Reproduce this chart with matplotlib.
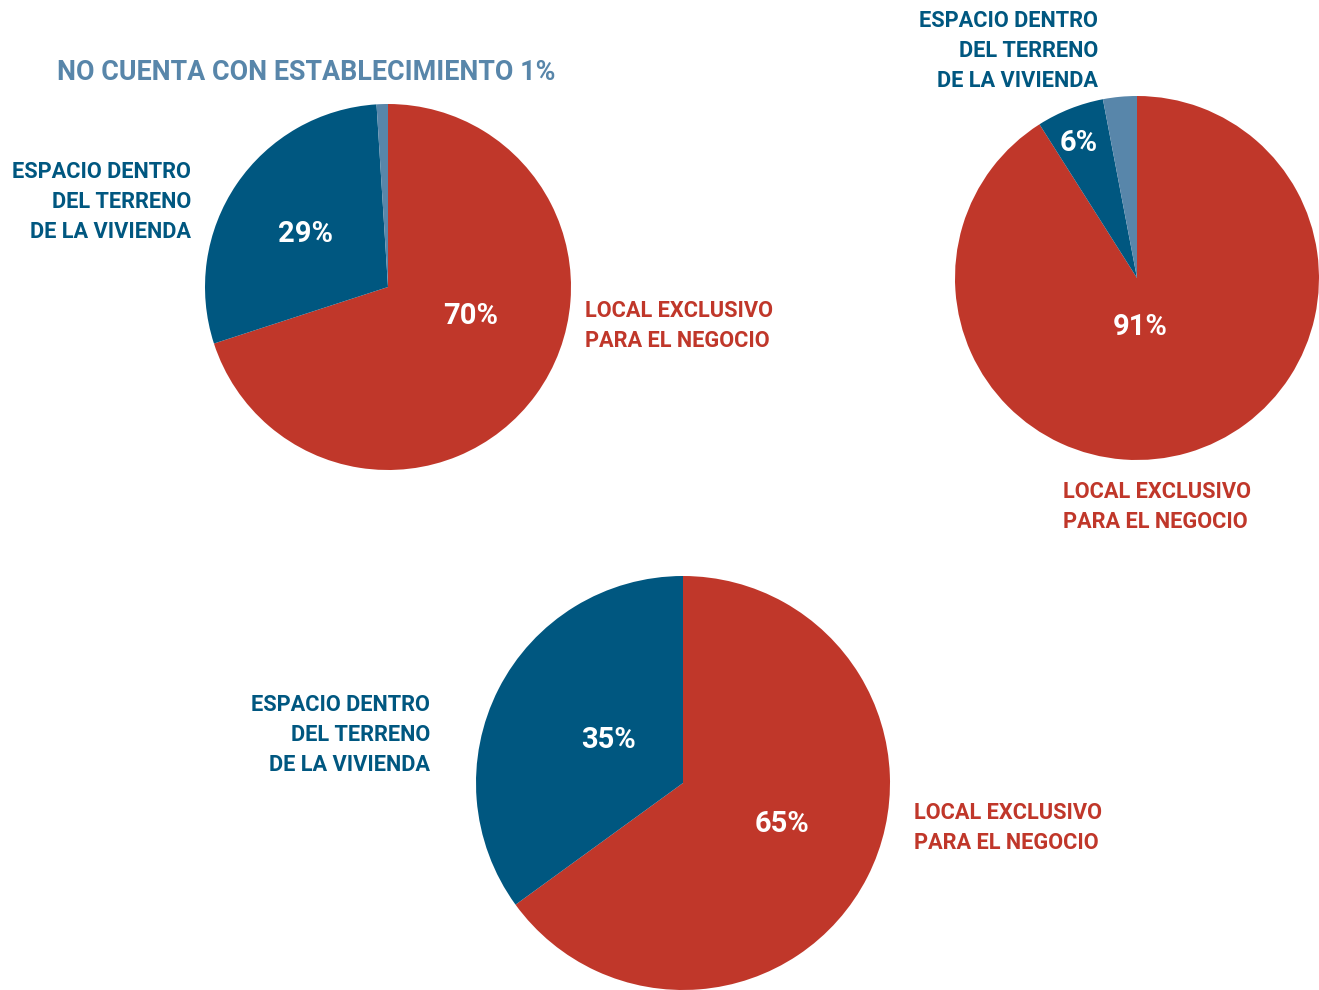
import matplotlib.pyplot as plt

plt.rcParams['font.family'] = ['Roboto', 'DejaVu Sans']

RED = '#C0372A'
DARK = '#005780'
LIGHT = '#5886AA'

W, H = 1319, 990

# shares per chart: local exclusivo, espacio dentro de la vivienda, no cuenta
left_vals = [70, 29, 1]
right_vals = [91, 6, 3]
bottom_vals = [65, 35]

lbl_local = 'LOCAL EXCLUSIVO\nPARA EL NEGOCIO'
lbl_espacio = 'ESPACIO DENTRO\nDEL TERRENO\nDE LA VIVIENDA'
lbl_none = 'NO CUENTA CON ESTABLECIMIENTO'

fig = plt.figure(figsize=(W / 100, H / 100), dpi=100)


def pie_axes(cx, cy, r):
    ax = fig.add_axes([(cx - r) / W, 1 - (cy + r) / H, 2 * r / W, 2 * r / H])
    return ax


def draw_pie(ax, vals, colors):
    ax.pie(vals, colors=colors, startangle=90, counterclock=False, radius=1,
           wedgeprops=dict(linewidth=0))
    ax.set_xlim(-1, 1)
    ax.set_ylim(-1, 1)
    ax.set_aspect('equal')
    ax.axis('off')


def pct(ax, x, y, v):
    ax.text(x, y, f'{v}%', color='white', fontsize=21, fontweight='bold',
            ha='center', va='center')


def label(x, y, s, color, ha):
    fig.text(x / W, 1 - y / H, s, color=color, fontsize=15.7, fontweight='bold',
             ha=ha, va='center', multialignment=ha, linespacing=1.45)


# top left
ax1 = pie_axes(388, 287, 183)
draw_pie(ax1, left_vals, [RED, DARK, LIGHT])
pct(ax1, -0.45, 0.29, left_vals[1])
pct(ax1, 0.45, -0.16, left_vals[0])
fig.text(57 / W, 1 - 72 / H, f'{lbl_none} {left_vals[2]}%', color=LIGHT,
         fontsize=19.4, fontweight='bold', ha='left', va='center')
label(191, 202, lbl_espacio, DARK, 'right')
label(585, 326, lbl_local, RED, 'left')

# top right
ax2 = pie_axes(1137, 278, 182)
draw_pie(ax2, right_vals, [RED, DARK, LIGHT])
pct(ax2, 0.02, -0.27, right_vals[0])
pct(ax2, -0.32, 0.74, right_vals[1])
label(1098, 51, lbl_espacio, DARK, 'right')
label(1063, 507, lbl_local, RED, 'left')

# bottom
ax3 = pie_axes(683, 783, 207)
draw_pie(ax3, bottom_vals, [RED, DARK])
pct(ax3, -0.36, 0.21, bottom_vals[1])
pct(ax3, 0.48, -0.20, bottom_vals[0])
label(430, 735, lbl_espacio, DARK, 'right')
label(914, 828, lbl_local, RED, 'left')

fig.savefig('out.png', dpi=100)
